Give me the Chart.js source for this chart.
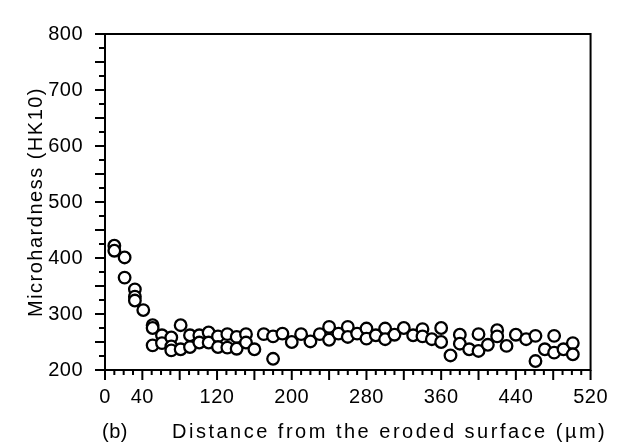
<!DOCTYPE html>
<html>
<head>
<meta charset="utf-8">
<script src="https://cdn.jsdelivr.net/npm/chart.js@4.4.1/dist/chart.umd.min.js"></script>
<style>
	html, body { margin: 0; padding: 0; background: #fff; }
	#wrap { width: 623px; height: 447px; }
</style>
</head>
<body>
<div id="wrap"><canvas id="scatter" width="623" height="447"></canvas></div>
<script>
// Microhardness profile below the eroded surface
const distance = [
	10, 10, 21, 21, 32, 32, 32, 41, 51, 51, 51, 61, 61, 71, 71, 71, 81, 81, 91, 91,
	101, 101, 111, 111, 121, 121, 131, 131, 141, 141, 151, 151, 160, 170, 180, 180,
	190, 200, 210, 220, 230, 240, 240, 250, 260, 260, 270, 280, 280, 290, 300, 300,
	310, 320, 330, 340, 340, 350, 360, 360, 370, 380, 380, 390, 400, 400, 410, 420,
	420, 430, 440, 451, 461, 461, 471, 481, 481, 491, 501, 501
];
const hardness = [
	422, 413, 401, 365, 344, 331, 324, 307, 280, 275, 244, 262, 248, 258, 242, 235, 280, 237, 262, 241,
	262, 249, 267, 249, 260, 241, 264, 240, 259, 238, 264, 249, 237, 264, 260, 220,
	265, 250, 264, 251, 264, 277, 254, 265, 277, 259, 265, 274, 256, 262, 274, 255,
	263, 275, 262, 273, 260, 255, 275, 250, 226, 263, 247, 237, 264, 234, 245, 271,
	260, 243, 263, 255, 261, 216, 237, 261, 231, 237, 248, 228
];
const xLabels = [0, 40, 120, 200, 280, 360, 440, 520];
const yLabels = [200, 300, 400, 500, 600, 700, 800];

const points = distance.map((d, i) => ({ x: d, y: hardness[i] }));

const FONT = "'Liberation Sans', Arial, sans-serif";
Chart.defaults.font.family = FONT;
Chart.defaults.font.size = 20;
Chart.defaults.color = "#000";

// spacing of the printed lettering
const spacing = {
	id: "spacing",
	beforeUpdate(chart) { chart.ctx.letterSpacing = "0.5px"; },
	beforeDraw(chart) { chart.ctx.letterSpacing = "0.5px"; }
};

// frame, tick marks and axis titles
const frame = {
	id: "frame",
	afterDraw(chart) {
		const { ctx, chartArea: a, scales: { x, y } } = chart;
		ctx.save();
		ctx.strokeStyle = "#000";
		ctx.lineWidth = 2;
		ctx.strokeRect(a.left, a.top, a.right - a.left, a.bottom - a.top);

		ctx.beginPath();
		for (let v = 0; v <= 520; v += 10) {
			const px = x.getPixelForValue(v);
			const len = v % 40 === 0 ? 10 : 5;
			ctx.moveTo(px, a.bottom);
			ctx.lineTo(px, a.bottom + len);
		}
		for (let v = 200; v <= 800; v += 25) {
			const py = y.getPixelForValue(v);
			const len = v % 50 === 0 ? 10 : 6;
			ctx.moveTo(a.left, py);
			ctx.lineTo(a.left - len, py);
		}
		ctx.stroke();

		ctx.fillStyle = "#000";
		ctx.font = "20px " + FONT;
		ctx.textBaseline = "middle";

		ctx.letterSpacing = "2.5px";
		ctx.textAlign = "left";
		ctx.fillText("Distance from the eroded surface (\u00b5m)", 172, 432);
		ctx.letterSpacing = "0.5px";
		ctx.fillText("(b)", 102, 432);

		ctx.letterSpacing = "1.5px";
		ctx.translate(36, (a.top + a.bottom) / 2);
		ctx.rotate(-Math.PI / 2);
		ctx.textAlign = "center";
		ctx.fillText("Microhardness (HK10)", 0, 0);
		ctx.restore();
	}
};

new Chart(document.getElementById("scatter"), {
	type: "scatter",
	data: {
		datasets: [{
			data: points,
			pointRadius: 5.8,
			pointHoverRadius: 5.8,
			pointBorderWidth: 2.3,
			pointBackgroundColor: "#fff",
			pointBorderColor: "#000"
		}]
	},
	options: {
		responsive: false,
		animation: false,
		layout: { padding: { left: 0, top: 18, right: 29, bottom: 0 } },
		plugins: {
			legend: { display: false },
			tooltip: { enabled: false }
		},
		scales: {
			x: {
				type: "linear",
				min: 0,
				max: 520,
				grid: { display: false, drawTicks: false },
				border: { display: false },
				ticks: {
					stepSize: 40,
					padding: 15,
					maxRotation: 0,
					autoSkip: false,
					callback: v => xLabels.includes(v) ? String(v) : ""
				},
				afterFit: s => { s.height = 77; }
			},
			y: {
				type: "linear",
				min: 200,
				max: 800,
				grid: { display: false, drawTicks: false },
				border: { display: false },
				ticks: {
					stepSize: 100,
					padding: 22,
					callback: v => yLabels.includes(v) ? String(v) : ""
				},
				afterFit: s => { s.width = 105; }
			}
		}
	},
	plugins: [spacing, frame]
});
</script>
</body>
</html>
